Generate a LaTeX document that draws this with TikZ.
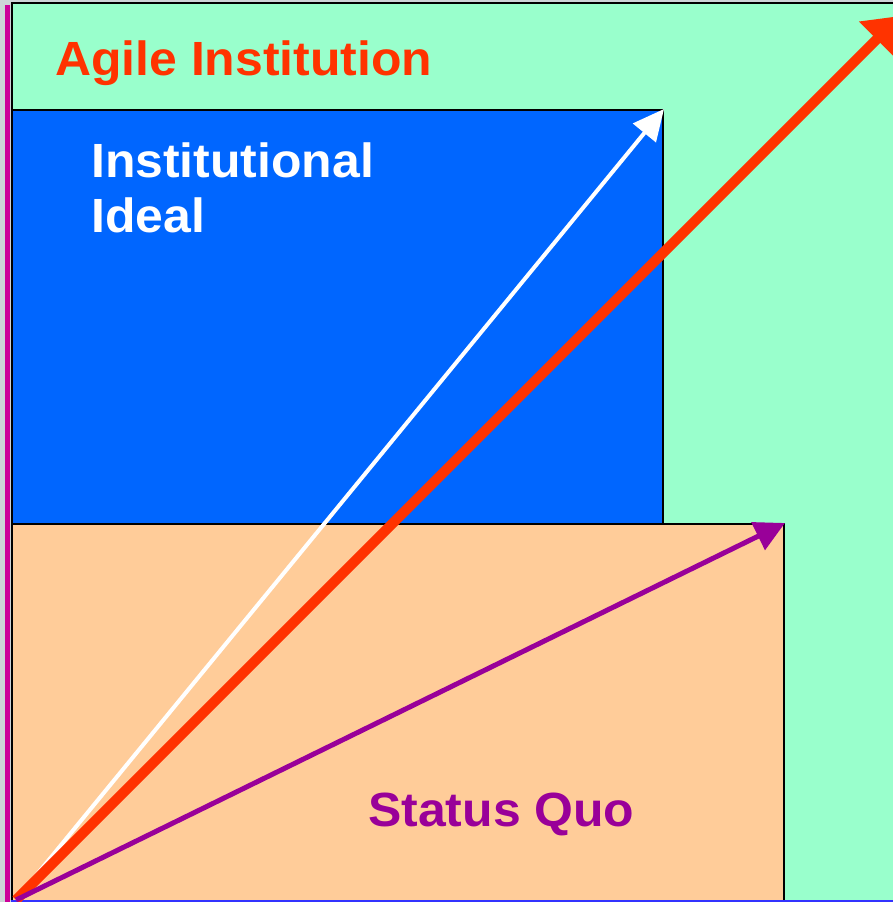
\documentclass[tikz,border=0pt]{standalone}
\usepackage{fontspec}
\setmainfont{Liberation Sans}
\newfontfamily\labelfont[FakeStretch=1.04]{Liberation Sans}
\usetikzlibrary{arrows.meta,positioning}

\definecolor{bggray}{HTML}{CDD4D7}
\definecolor{edgemag}{HTML}{CC0099}
\definecolor{agilegreen}{HTML}{99FFCC}
\definecolor{idealblue}{HTML}{0066FF}
\definecolor{quopeach}{HTML}{FFCC99}
\definecolor{agilered}{HTML}{FF3300}
\definecolor{quopurple}{HTML}{990099}
\definecolor{baseblue}{HTML}{3333FF}

\begin{document}
\begin{tikzpicture}[x=1pt,y=1pt,
    box/.style={draw=black,line width=2pt,inner sep=0pt,anchor=south west},
    label/.style={inner sep=0pt,anchor=base west,font=\labelfont\fontsize{48}{55}\selectfont\bfseries}]
  \useasboundingbox (0,0) rectangle (893,902);
  \clip (0,0) rectangle (893,902);
  \fill[bggray] (0,0) rectangle (893,902);
  \draw[edgemag,line width=5pt] (7.5,0) -- (7.5,897);

  % the three regions
  \node[box,fill=agilegreen,minimum width=882pt,minimum height=898pt] (agile) at (11,0) {};
  \node[box,fill=quopeach,minimum width=772pt,minimum height=377pt] (quo) at (11,0) {};
  \node[box,fill=idealblue,minimum width=651pt,minimum height=414pt] (ideal) at (11,377) {};
  \draw[baseblue,line width=3pt] (agile.south west) -- (agile.south east);

  \node[label,text=agilered] (agiletext) at (55,826) {Agile Institution};
  \node[label,text=white] (idealtext) at (91,724) {Institutional};
  \node[label,text=white,below=55pt of idealtext.base west,anchor=base west] (idealtextb) {Ideal};
  \node[label,text=quopurple] (quotext) at (368,75) {Status Quo};

  \coordinate (origin) at (16,2);
  \coordinate (agiletip) at (900,886);

  \draw[white,line width=4pt,-{Triangle[length=31pt,width=29pt]}] (origin) -- (ideal.north east);
  \draw[agilered,line width=10pt,-{Triangle[length=33pt,width=48pt]}] (origin) -- (agiletip);
  \draw[quopurple,line width=5pt,-{Triangle[length=30pt,width=30pt]}] (origin) -- (quo.north east);
\end{tikzpicture}
\end{document}
